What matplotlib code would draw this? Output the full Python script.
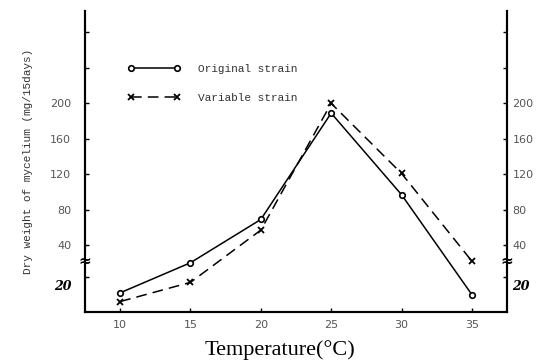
import numpy as np
import matplotlib
matplotlib.use("Agg")
import matplotlib.pyplot as plt
from matplotlib.transforms import blended_transform_factory, ScaledTranslation

# data
temperature = [10, 15, 20, 25, 30, 35]
original_strain = [11, 29, 69, 189, 97, 10]
variable_strain = [6, 17, 57, 200, 121, 30]

y_ticks = [20, 40, 80, 120, 160, 200, 240, 280]
y_tick_labels = ['20', '40', '80', '120', '160', '200', '', '']
x_ticks = [10, 15, 20, 25, 30, 35]

# broken y axis: 0-20 stretched, 20-40 squeezed into the break, then linear
_vals = [-100, 0, 20, 40, 400]
_pos = [-175, 0, 35, 67, 67 + 360 * 0.8875]


def fwd(v):
    return np.interp(v, _vals, _pos)


def inv(p):
    return np.interp(p, _pos, _vals)


def style_axis(a, side):
    a.set_yscale('function', functions=(fwd, inv))
    a.set_ylim(0, 304)
    a.set_yticks(y_ticks)
    a.set_yticklabels(y_tick_labels)
    pad = 10 if side == 'left' else 4
    a.tick_params(axis='y', direction='in', length=3, width=1, pad=pad,
                  labelsize=8, labelcolor='#555555')
    labels = a.get_yticklabels()
    for t, lab in zip(y_ticks, labels):
        if t == 20:
            lab.set_fontweight('bold')
            lab.set_fontstyle('italic')
            lab.set_color('black')
            lab.set_fontsize(9)
            lab.set_family('DejaVu Serif')
            lab.set_transform(lab.get_transform() +
                              ScaledTranslation(0, -6 / 72, fig.dpi_scale_trans))


fig = plt.figure(figsize=(5.4, 3.62), dpi=100)
ax = fig.add_axes([0.1574, 0.138, 0.9389 - 0.1574, 0.969 - 0.138])

ax.plot(temperature, original_strain, '-', color='black', lw=1.1,
        marker='o', ms=4, mfc='white', mec='black', mew=1.2,
        label='Original strain')
ax.plot(temperature, variable_strain, '--', color='black', lw=1.1,
        dashes=(7, 4), marker='x', ms=4, mew=1.3,
        label='Variable strain')

ax.set_xlim(7.5, 37.5)
style_axis(ax, 'left')

ax2 = ax.twinx()
style_axis(ax2, 'right')

for a in (ax, ax2):
    for s in ['left', 'right', 'bottom']:
        a.spines[s].set_linewidth(1.5)
    a.spines['top'].set_visible(False)

ax.set_xticks(x_ticks)
ax.set_xticklabels([str(t) for t in x_ticks])
ax.tick_params(axis='x', direction='in', length=3, width=1, pad=6,
               labelsize=8, labelcolor='#555555')

# break marks on both axes
tr = blended_transform_factory(ax.transAxes, ax.transData)
for xpos in (0, 1):
    ax.text(xpos, 30, '≈', transform=tr, ha='center', va='center',
            fontsize=11, fontweight='bold', clip_on=False)

ax.set_ylabel('Dry weight of mycelium (mg/15days)', family='Liberation Mono',
              fontsize=8, color='#333333', labelpad=12)

leg = ax.legend(loc='upper left', bbox_to_anchor=(0.1, 0.825), frameon=False,
                numpoints=2, handlelength=4.8, handletextpad=1.6,
                labelspacing=1.7, borderpad=0, borderaxespad=0,
                prop={'family': 'Liberation Mono', 'size': 8})
for txt in leg.get_texts():
    txt.set_color('#333333')

fig.text(280 / 540, 1 - 355 / 362, 'Temperature(°C)', family='Liberation Serif',
         fontsize=16, ha='center', va='baseline')

fig.savefig('out.png', dpi=100)
